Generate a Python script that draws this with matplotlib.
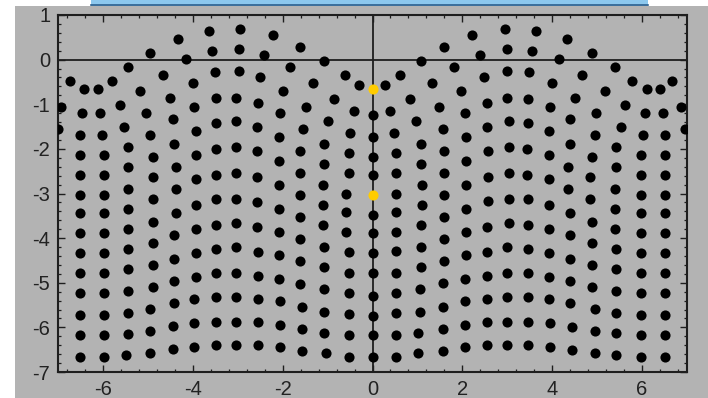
import matplotlib.pyplot as plt
import numpy as np
from matplotlib.patches import Rectangle
from matplotlib.lines import Line2D
from matplotlib.ticker import MultipleLocator

plt.rcParams["font.family"] = ["Liberation Sans", "DejaVu Sans"]
plt.rcParams["axes.unicode_minus"] = False

# ---- data (x, y) ----
left_upper = [
    (-3.65, 0.64), (-4.32, 0.46), (-4.95, 0.15), (-3.58, 0.19), (-4.15, 0.01),
    (-5.44, -0.17), (-6.73, -0.48), (-6.43, -0.66), (-6.11, -0.66), (-5.80, -0.48),
    (-4.67, -0.35), (-5.17, -0.71), (-4.00, -0.52), (-4.50, -0.85), (-6.93, -1.07),
    (-6.46, -1.20), (-6.06, -1.20), (-5.61, -1.02), (-5.04, -1.20), (-3.97, -1.07),
    (-4.45, -1.33), (-6.99, -1.56), (-6.50, -1.69), (-6.02, -1.69), (-5.52, -1.51),
    (-4.95, -1.69), (-4.41, -1.88), (-3.93, -1.60), (-6.50, -2.14), (-5.97, -2.14),
    (-5.44, -1.95), (-4.89, -2.18), (-4.37, -2.40), (-3.92, -2.14), (-6.50, -2.59),
    (-5.97, -2.59), (-5.44, -2.40), (-4.89, -2.64), (-4.37, -2.90), (-3.92, -2.68),
    (-5.44, -2.90),
    (-2.94, 0.68), (-2.22, 0.55), (-2.98, 0.23), (-2.41, 0.11), (-1.61, 0.28),
    (-1.07, -0.04), (-1.83, -0.16), (-3.51, -0.28), (-2.98, -0.25), (-2.50, -0.39),
    (-1.33, -0.52), (-0.62, -0.35), (-0.31, -0.57), (-2.00, -0.70), (-3.48, -0.87),
    (-3.03, -0.85), (-2.54, -0.97), (-1.47, -1.07), (-0.85, -0.88), (-0.41, -1.15),
    (-2.05, -1.20), (-3.48, -1.42), (-3.03, -1.37), (-2.57, -1.51), (-1.55, -1.56),
    (-0.98, -1.38), (-2.09, -1.74), (-0.49, -1.65), (-3.48, -2.00), (-3.03, -1.96),
    (-2.57, -2.05), (-1.61, -2.05), (-1.07, -1.88), (-0.53, -2.10), (-2.09, -2.27),
    (-3.48, -2.59), (-3.03, -2.54), (-2.57, -2.63), (-1.61, -2.55), (-1.07, -2.33),
    (-0.53, -2.55), (-2.09, -2.81), (-1.11, -2.81),
]

left_lower = [
    (-6.50, -3.03), (-6.50, -3.44), (-6.50, -3.89), (-6.50, -4.34), (-6.50, -4.79),
    (-6.50, -5.23), (-6.50, -5.73), (-6.50, -6.18), (-6.50, -6.67),
    (-5.97, -3.03), (-5.97, -3.44), (-5.97, -3.89), (-5.97, -4.34), (-5.97, -4.79),
    (-5.97, -5.23), (-5.97, -5.73), (-5.97, -6.18), (-5.97, -6.67),
    (-5.44, -3.35), (-5.44, -3.80), (-5.44, -4.25), (-5.44, -4.70), (-5.44, -5.18),
    (-5.44, -5.67), (-5.44, -6.14), (-5.48, -6.63),
    (-4.89, -3.13), (-4.89, -3.63), (-4.89, -4.12), (-4.89, -4.61), (-4.89, -5.10),
    (-4.95, -5.59), (-4.95, -6.09), (-4.95, -6.58),
    (-4.37, -3.44), (-4.41, -3.93), (-4.41, -4.47), (-4.41, -4.96), (-4.41, -5.46),
    (-4.45, -5.98), (-4.45, -6.49),
    (-3.92, -3.26), (-3.92, -3.80), (-3.92, -4.34), (-3.92, -4.88), (-3.97, -5.37),
    (-3.97, -5.91), (-3.97, -6.43),
    (-3.48, -3.13), (-3.48, -3.71), (-3.48, -4.25), (-3.48, -4.79), (-3.48, -5.32),
    (-3.48, -5.87), (-3.48, -6.39),
    (-3.03, -3.13), (-3.03, -3.67), (-3.03, -4.21), (-3.03, -4.79), (-3.03, -5.32),
    (-3.03, -5.87), (-3.03, -6.39),
    (-2.57, -3.18), (-2.57, -3.76), (-2.54, -4.30), (-2.54, -4.84), (-2.54, -5.37),
    (-2.54, -5.87), (-2.54, -6.39),
    (-2.09, -3.35), (-2.09, -3.86), (-2.09, -4.38), (-2.09, -4.92), (-2.05, -5.42),
    (-2.05, -5.94), (-2.05, -6.44),
    (-1.61, -3.03), (-1.61, -3.53), (-1.61, -4.03), (-1.61, -4.52), (-1.61, -5.02),
    (-1.56, -5.55), (-1.56, -6.04), (-1.56, -6.54),
    (-1.11, -3.26), (-1.11, -3.71), (-1.07, -4.21), (-1.07, -4.65), (-1.07, -5.15),
    (-1.07, -5.65), (-1.07, -6.13), (-1.03, -6.58),
    (-0.59, -3.00), (-0.59, -3.41), (-0.59, -3.86), (-0.53, -4.30), (-0.53, -4.79),
    (-0.53, -5.23), (-0.53, -5.70), (-0.53, -6.18), (-0.53, -6.67),
]

right_upper = [
    (2.22, 0.56), (2.94, 0.68), (1.60, 0.28), (2.40, 0.11), (2.99, 0.23),
    (1.08, -0.04), (1.82, -0.17), (0.62, -0.34), (2.49, -0.39), (2.99, -0.25),
    (3.49, -0.28), (0.27, -0.57), (1.33, -0.52), (1.97, -0.70), (0.84, -0.88),
    (0.39, -1.15), (1.47, -1.07), (2.05, -1.20), (2.55, -0.97), (2.99, -0.85),
    (3.47, -0.88), (0.97, -1.37), (1.56, -1.56), (2.55, -1.51), (3.03, -1.38),
    (3.47, -1.43), (0.48, -1.65), (2.08, -1.74), (1.08, -1.88), (1.60, -2.05),
    (2.58, -2.05), (3.03, -1.96), (3.43, -2.00), (0.53, -2.10), (2.08, -2.27),
    (1.08, -2.33), (0.53, -2.55), (1.60, -2.55), (2.58, -2.63), (3.03, -2.54),
    (3.43, -2.59), (1.11, -2.81), (2.08, -2.81),
    (3.65, 0.64), (4.32, 0.46), (3.56, 0.19), (4.89, 0.15), (4.15, 0.01),
    (5.39, -0.17), (4.67, -0.35), (4.00, -0.52), (5.78, -0.48), (6.10, -0.66),
    (6.41, -0.66), (6.67, -0.48), (5.17, -0.71), (4.50, -0.85), (3.96, -1.07),
    (4.98, -1.20), (5.61, -1.02), (6.06, -1.20), (6.46, -1.20), (6.86, -1.07),
    (4.40, -1.33), (3.92, -1.60), (4.95, -1.69), (5.53, -1.51), (6.01, -1.69),
    (6.51, -1.69), (6.95, -1.55), (4.40, -1.88), (3.92, -2.14), (4.89, -2.18),
    (5.43, -1.96), (5.97, -2.14), (6.51, -2.14), (4.35, -2.40), (3.92, -2.68),
    (4.85, -2.63), (5.43, -2.40), (5.97, -2.59), (6.51, -2.59), (4.35, -2.90),
    (5.39, -2.90),
]

right_lower = [
    (0.53, -3.00), (0.53, -3.41), (0.53, -3.86), (0.53, -4.29), (0.53, -4.79),
    (0.53, -5.23), (0.53, -5.68), (0.53, -6.18), (0.53, -6.67),
    (1.11, -3.26), (1.08, -3.71), (1.08, -4.21), (1.08, -4.65), (1.05, -5.15),
    (1.05, -5.65), (1.02, -6.13), (1.02, -6.58),
    (1.60, -3.03), (1.60, -3.53), (1.60, -4.03), (1.60, -4.52), (1.56, -5.01),
    (1.56, -5.55), (1.56, -6.04), (1.56, -6.54),
    (2.08, -3.35), (2.08, -3.86), (2.08, -4.38), (2.05, -4.92), (2.05, -5.42),
    (2.05, -5.94), (2.05, -6.44),
    (2.58, -3.17), (2.55, -3.76), (2.55, -4.30), (2.55, -4.84), (2.55, -5.37),
    (2.55, -5.87), (2.55, -6.39),
    (3.03, -3.13), (3.03, -3.67), (2.99, -4.21), (2.99, -4.79), (2.99, -5.32),
    (2.99, -5.87), (2.99, -6.39),
    (3.47, -3.13), (3.47, -3.71), (3.47, -4.25), (3.47, -4.79), (3.47, -5.32),
    (3.47, -5.87), (3.47, -6.39),
    (3.92, -3.26), (3.92, -3.80), (3.92, -4.34), (3.92, -4.88), (3.92, -5.37),
    (3.96, -5.91), (3.96, -6.44),
    (4.40, -3.44), (4.40, -3.93), (4.40, -4.47), (4.40, -4.96), (4.40, -5.46),
    (4.45, -6.00), (4.45, -6.50),
    (4.85, -3.13), (4.89, -3.63), (4.89, -4.12), (4.89, -4.61), (4.89, -5.10),
    (4.95, -5.59), (4.95, -6.09), (4.95, -6.58),
    (5.39, -3.35), (5.39, -3.80), (5.43, -4.25), (5.43, -4.70), (5.43, -5.18),
    (5.43, -5.68), (5.43, -6.13), (5.43, -6.63),
    (5.97, -3.03), (5.97, -3.44), (5.97, -3.89), (5.97, -4.34), (5.97, -4.79),
    (5.97, -5.23), (5.97, -5.73), (5.97, -6.18), (5.97, -6.67),
    (6.51, -3.03), (6.51, -3.44), (6.51, -3.89), (6.51, -4.34), (6.51, -4.79),
    (6.51, -5.23), (6.51, -5.73), (6.51, -6.18), (6.51, -6.67),
]

# dots sitting on the imaginary axis (x = 0)
axis_black_y = [-1.25, -1.74, -2.18, -2.59, -3.48, -3.89, -4.34, -4.79,
                -5.30, -5.74, -6.18, -6.67]
axis_yellow_y = [-0.66, -3.03]

x_ticks = [-6, -4, -2, 0, 2, 4, 6]
x_tick_labels = ["-6", "-4", "-2", "0", "2", "4", "6"]
y_ticks = [-7, -6, -5, -4, -3, -2, -1, 0, 1]
y_tick_labels = ["-7", "-6", "-5", "-4", "-3", "-2", "-1", "0", "1"]

GRAY = "#b3b3b3"
DARK = "#1e1e1e"

fig = plt.figure(figsize=(7.08, 3.98), dpi=100)
fig.patch.set_facecolor("white")

# grey panel behind the plot, light blue bar peeking at the top
fig.patches.append(Rectangle((15 / 708, 0), 1 - 15 / 708, 392 / 398,
                             transform=fig.transFigure, facecolor=GRAY,
                             edgecolor="none", zorder=-10))
fig.patches.append(Rectangle((91 / 708, 392 / 398), 557 / 708, 6 / 398,
                             transform=fig.transFigure, facecolor="#8cc8ee",
                             edgecolor="none", zorder=-10))
fig.lines.append(Line2D([91 / 708, 648 / 708], [393 / 398, 393 / 398],
                        transform=fig.transFigure, color="#2d5f8c", lw=1.2,
                        zorder=-9))

ax = fig.add_axes([58 / 708, 26 / 398, 629 / 708, 357 / 398])
ax.set_zorder(5)
ax.set_facecolor(GRAY)
ax.set_xlim(-7, 7)
ax.set_ylim(-7, 1)

ax.axhline(0, color=DARK, lw=1.3, zorder=1)
ax.axvline(0, color=DARK, lw=1.3, zorder=1)

pts = np.array(left_upper + left_lower + right_upper + right_lower)
ax.plot(pts[:, 0], pts[:, 1], "o", color="black", ms=7.3, mew=0, zorder=3)
ax.plot(np.zeros(len(axis_black_y)), axis_black_y, "o", color="black",
        ms=7.3, mew=0, zorder=3)
ax.plot(np.zeros(len(axis_yellow_y)), axis_yellow_y, "o", color="#ffcc00",
        ms=7.3, mew=0, zorder=4)

ax.set_xticks(x_ticks, x_tick_labels)
ax.set_yticks(y_ticks, y_tick_labels)
ax.xaxis.set_minor_locator(MultipleLocator(0.4))
ax.yaxis.set_minor_locator(MultipleLocator(0.2))
ax.tick_params(which="both", direction="in", top=True, right=True,
               color=DARK, labelcolor="#222222", labelsize=14.5)
ax.tick_params(which="major", length=5, width=1)
ax.tick_params(which="minor", length=2.5, width=0.9)
ax.tick_params(axis="x", pad=6)
ax.tick_params(axis="y", pad=5.5)

for sp in ax.spines.values():
    sp.set_color(DARK)
    sp.set_linewidth(1.5)

fig.savefig("out.png", dpi=100)
